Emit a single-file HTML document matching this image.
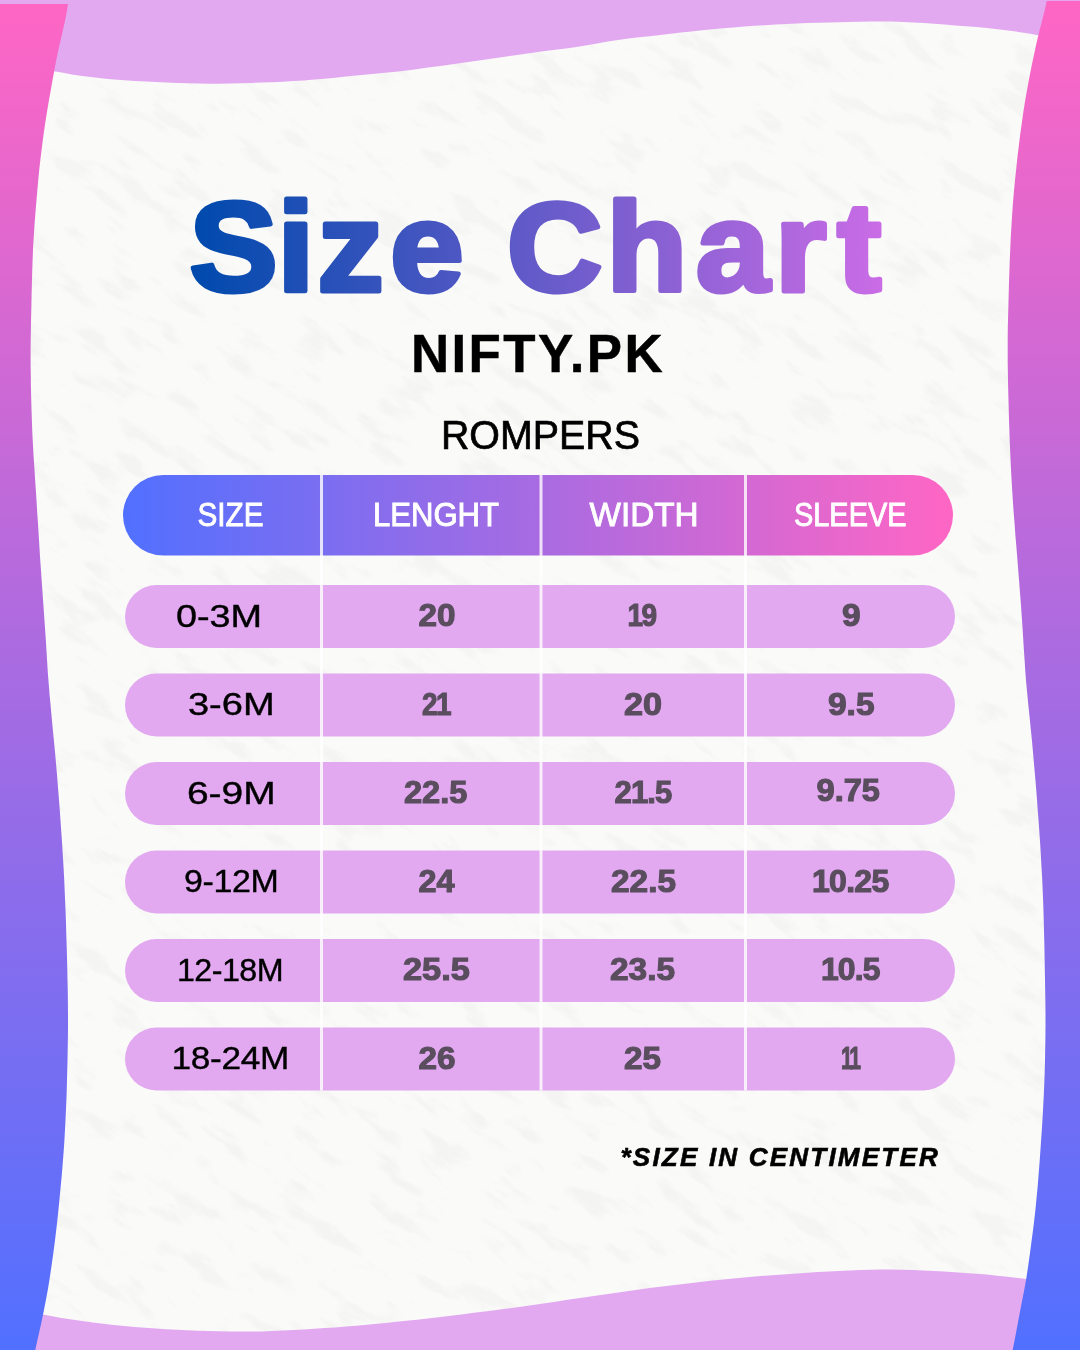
<!DOCTYPE html>
<html lang="en"><head><meta charset="utf-8"><title>Size Chart - NIFTY.PK Rompers</title>
<style>
html,body{margin:0;padding:0;background:#E2A9F1;}
body{width:1080px;height:1350px;overflow:hidden;}
svg{display:block;}
text{font-family:"Liberation Sans",Arial,sans-serif;}
</style></head><body>
<svg width="1080" height="1350" viewBox="0 0 1080 1350">
<defs>
<linearGradient id="gv" x1="0" y1="0" x2="0" y2="1350" gradientUnits="userSpaceOnUse"><stop offset="0" stop-color="#FF66C4"/><stop offset="1" stop-color="#5170FF"/></linearGradient>
<linearGradient id="gh" x1="123" y1="0" x2="953" y2="0" gradientUnits="userSpaceOnUse"><stop offset="0" stop-color="#5170FF"/><stop offset="1" stop-color="#FF66C4"/></linearGradient>
<linearGradient id="gt" x1="187.0" y1="0" x2="845.3" y2="0" gradientUnits="userSpaceOnUse"><stop offset="0" stop-color="#004AAD"/><stop offset="1" stop-color="#CB6CE6"/></linearGradient>
<filter id="paper" x="0" y="0" width="100%" height="100%" color-interpolation-filters="sRGB"><feTurbulence type="fractalNoise" baseFrequency="0.02 0.06" numOctaves="4" seed="3" result="n"/><feColorMatrix in="n" type="matrix" values="0 0 0 0 0.5  0 0 0 0 0.5  0 0 0 0 0.5  5 0 0 0 -2.7"/></filter>
<clipPath id="pc"><polygon points="20.0,64.5 30.3,66.7 40.7,68.7 51.1,70.8 61.5,72.6 71.9,74.4 82.3,76.0 92.8,77.3 103.3,78.5 113.8,79.5 124.4,80.3 134.9,81.0 145.5,81.6 156.0,82.1 166.6,82.5 177.1,82.9 187.7,83.2 198.3,83.5 208.8,83.8 219.4,83.8 230.0,83.6 240.5,83.3 251.1,82.9 261.6,82.6 272.2,82.2 282.8,81.7 293.3,81.1 303.9,80.4 314.4,79.6 324.9,78.7 335.4,77.7 345.9,76.6 356.5,75.6 367.0,74.6 377.5,73.6 388.0,72.6 398.5,71.4 409.0,70.2 419.5,68.8 429.9,67.3 440.4,65.9 450.9,64.4 461.3,62.9 471.8,61.5 482.3,60.0 492.7,58.5 503.2,57.0 513.6,55.5 524.1,54.0 534.6,52.5 545.0,51.1 555.5,49.8 566.0,48.5 576.5,47.0 586.9,45.3 597.3,43.4 607.7,41.6 618.1,40.0 628.6,38.6 639.1,37.3 649.6,36.2 660.1,35.0 670.6,33.8 681.1,32.6 691.6,31.4 702.1,30.3 712.6,29.2 723.1,28.3 733.7,27.4 744.2,26.6 754.7,25.8 765.3,25.2 775.8,24.6 786.4,24.0 796.9,23.5 807.5,23.1 818.1,22.7 828.6,22.4 839.2,22.2 849.7,22.0 860.3,21.7 870.9,21.6 881.4,21.5 892.0,21.6 902.6,21.9 913.1,22.4 923.7,23.0 934.2,23.7 944.7,24.5 955.3,25.4 965.8,26.2 976.4,27.1 986.9,28.1 997.4,29.2 1007.9,30.5 1018.3,31.9 1028.8,33.6 1039.2,35.4 1049.6,37.2 1060.0,39.0 1060.0,1284.0 1049.6,1282.2 1039.1,1280.6 1028.7,1279.2 1018.2,1277.9 1007.7,1276.7 997.2,1275.7 986.7,1274.6 976.1,1273.7 965.6,1272.9 955.1,1272.2 944.5,1271.5 934.0,1271.0 923.4,1270.5 912.9,1270.1 902.3,1269.8 891.7,1269.5 881.2,1269.5 870.6,1269.7 860.1,1270.0 849.5,1270.4 839.0,1270.9 828.4,1271.5 817.9,1272.1 807.3,1272.8 796.8,1273.5 786.2,1274.2 775.7,1274.9 765.2,1275.7 754.6,1276.6 744.1,1277.5 733.6,1278.5 723.1,1279.5 712.6,1280.6 702.1,1281.8 691.6,1282.9 681.1,1284.2 670.6,1285.4 660.1,1286.7 649.6,1288.0 639.2,1289.4 628.7,1290.9 618.2,1292.4 607.8,1293.9 597.3,1295.4 586.9,1296.9 576.4,1298.5 566.0,1300.1 555.5,1301.7 545.1,1303.2 534.6,1304.8 524.2,1306.2 513.7,1307.7 503.2,1309.0 492.8,1310.4 482.3,1311.7 471.8,1313.1 461.3,1314.4 450.9,1315.7 440.4,1317.0 429.9,1318.2 419.4,1319.4 408.9,1320.5 398.4,1321.6 387.9,1322.7 377.3,1323.8 366.8,1324.7 356.3,1325.7 345.8,1326.5 335.2,1327.4 324.7,1328.1 314.2,1328.8 303.6,1329.4 293.1,1330.0 282.5,1330.6 272.0,1331.1 261.4,1331.5 250.9,1331.6 240.3,1331.6 229.7,1331.5 219.2,1331.3 208.6,1331.1 198.0,1330.7 187.5,1330.3 176.9,1329.8 166.4,1329.3 155.9,1328.6 145.3,1327.8 134.8,1326.9 124.3,1326.0 113.8,1324.9 103.3,1323.7 92.8,1322.5 82.3,1321.1 71.8,1319.5 61.4,1317.9 51.0,1316.0 40.6,1314.0 30.3,1311.9 20.0,1309.5"/></clipPath>
</defs>
<rect width="1080" height="1350" fill="#E2A9F1"/>
<polygon points="20.0,64.5 30.3,66.7 40.7,68.7 51.1,70.8 61.5,72.6 71.9,74.4 82.3,76.0 92.8,77.3 103.3,78.5 113.8,79.5 124.4,80.3 134.9,81.0 145.5,81.6 156.0,82.1 166.6,82.5 177.1,82.9 187.7,83.2 198.3,83.5 208.8,83.8 219.4,83.8 230.0,83.6 240.5,83.3 251.1,82.9 261.6,82.6 272.2,82.2 282.8,81.7 293.3,81.1 303.9,80.4 314.4,79.6 324.9,78.7 335.4,77.7 345.9,76.6 356.5,75.6 367.0,74.6 377.5,73.6 388.0,72.6 398.5,71.4 409.0,70.2 419.5,68.8 429.9,67.3 440.4,65.9 450.9,64.4 461.3,62.9 471.8,61.5 482.3,60.0 492.7,58.5 503.2,57.0 513.6,55.5 524.1,54.0 534.6,52.5 545.0,51.1 555.5,49.8 566.0,48.5 576.5,47.0 586.9,45.3 597.3,43.4 607.7,41.6 618.1,40.0 628.6,38.6 639.1,37.3 649.6,36.2 660.1,35.0 670.6,33.8 681.1,32.6 691.6,31.4 702.1,30.3 712.6,29.2 723.1,28.3 733.7,27.4 744.2,26.6 754.7,25.8 765.3,25.2 775.8,24.6 786.4,24.0 796.9,23.5 807.5,23.1 818.1,22.7 828.6,22.4 839.2,22.2 849.7,22.0 860.3,21.7 870.9,21.6 881.4,21.5 892.0,21.6 902.6,21.9 913.1,22.4 923.7,23.0 934.2,23.7 944.7,24.5 955.3,25.4 965.8,26.2 976.4,27.1 986.9,28.1 997.4,29.2 1007.9,30.5 1018.3,31.9 1028.8,33.6 1039.2,35.4 1049.6,37.2 1060.0,39.0 1060.0,1284.0 1049.6,1282.2 1039.1,1280.6 1028.7,1279.2 1018.2,1277.9 1007.7,1276.7 997.2,1275.7 986.7,1274.6 976.1,1273.7 965.6,1272.9 955.1,1272.2 944.5,1271.5 934.0,1271.0 923.4,1270.5 912.9,1270.1 902.3,1269.8 891.7,1269.5 881.2,1269.5 870.6,1269.7 860.1,1270.0 849.5,1270.4 839.0,1270.9 828.4,1271.5 817.9,1272.1 807.3,1272.8 796.8,1273.5 786.2,1274.2 775.7,1274.9 765.2,1275.7 754.6,1276.6 744.1,1277.5 733.6,1278.5 723.1,1279.5 712.6,1280.6 702.1,1281.8 691.6,1282.9 681.1,1284.2 670.6,1285.4 660.1,1286.7 649.6,1288.0 639.2,1289.4 628.7,1290.9 618.2,1292.4 607.8,1293.9 597.3,1295.4 586.9,1296.9 576.4,1298.5 566.0,1300.1 555.5,1301.7 545.1,1303.2 534.6,1304.8 524.2,1306.2 513.7,1307.7 503.2,1309.0 492.8,1310.4 482.3,1311.7 471.8,1313.1 461.3,1314.4 450.9,1315.7 440.4,1317.0 429.9,1318.2 419.4,1319.4 408.9,1320.5 398.4,1321.6 387.9,1322.7 377.3,1323.8 366.8,1324.7 356.3,1325.7 345.8,1326.5 335.2,1327.4 324.7,1328.1 314.2,1328.8 303.6,1329.4 293.1,1330.0 282.5,1330.6 272.0,1331.1 261.4,1331.5 250.9,1331.6 240.3,1331.6 229.7,1331.5 219.2,1331.3 208.6,1331.1 198.0,1330.7 187.5,1330.3 176.9,1329.8 166.4,1329.3 155.9,1328.6 145.3,1327.8 134.8,1326.9 124.3,1326.0 113.8,1324.9 103.3,1323.7 92.8,1322.5 82.3,1321.1 71.8,1319.5 61.4,1317.9 51.0,1316.0 40.6,1314.0 30.3,1311.9 20.0,1309.5" fill="#FAFAF8"/>
<g clip-path="url(#pc)" opacity="0.042"><g transform="rotate(33 540 675)"><rect x="-260" y="-160" width="1600" height="1680" fill="#000" filter="url(#paper)"/></g></g>
<polygon points="-2.0,4.0 68.0,4.0 66.9,11.3 64.7,22.6 62.1,33.7 59.5,44.9 57.1,56.1 54.9,67.3 52.8,78.6 50.8,89.9 48.8,101.1 46.9,112.4 45.1,123.7 43.5,135.1 42.0,146.4 40.6,157.8 39.3,169.2 38.2,180.6 37.2,192.0 36.2,203.4 35.3,214.8 34.4,226.2 33.7,237.6 33.0,249.1 32.6,260.5 32.2,272.0 31.9,283.4 31.6,294.8 31.4,306.3 31.1,317.7 30.9,329.2 30.7,340.6 30.6,352.1 30.6,363.5 30.8,375.0 30.9,386.4 31.2,397.9 31.5,409.3 31.9,420.8 32.3,432.2 32.9,443.7 33.5,455.1 34.3,466.5 35.0,477.9 35.8,489.4 36.5,500.8 37.2,512.2 38.0,523.6 38.7,535.1 39.4,546.5 40.1,557.9 40.9,569.4 41.7,580.8 42.5,592.2 43.3,603.6 44.1,615.0 44.9,626.5 45.7,637.9 46.4,649.3 47.1,660.7 47.8,672.2 48.7,683.6 49.6,695.0 50.7,706.4 51.7,717.8 52.8,729.2 53.9,740.6 55.0,752.0 56.0,763.4 57.0,774.8 57.9,786.2 58.8,797.6 59.7,809.1 60.5,820.5 61.3,831.9 62.1,843.3 62.8,854.8 63.5,866.2 64.1,877.6 64.6,889.1 65.1,900.5 65.6,911.9 66.0,923.4 66.3,934.8 66.7,946.3 67.0,957.7 67.3,969.2 67.5,980.6 67.8,992.1 67.9,1003.5 68.0,1015.0 68.0,1026.4 67.9,1037.9 67.7,1049.3 67.5,1060.8 67.2,1072.2 66.9,1083.6 66.6,1095.1 66.1,1106.5 65.6,1118.0 65.0,1129.4 64.4,1140.8 63.6,1152.3 62.7,1163.7 61.8,1175.1 60.7,1186.5 59.6,1197.9 58.5,1209.3 57.3,1220.7 56.0,1232.0 54.6,1243.4 53.1,1254.8 51.5,1266.1 49.8,1277.4 48.0,1288.7 45.9,1300.0 43.7,1311.2 41.4,1322.5 38.9,1333.6 36.4,1344.8 34.0,1356.0 -2.0,1356.0" fill="url(#gv)"/>
<polygon points="1082.0,1.0 1046.8,1.0 1044.7,10.2 1041.9,21.3 1039.0,32.4 1036.4,43.6 1034.0,54.8 1031.6,66.0 1029.4,77.2 1027.3,88.5 1025.3,99.8 1023.5,111.1 1021.9,122.4 1020.3,133.8 1018.9,145.2 1017.5,156.6 1016.3,167.9 1015.1,179.3 1014.0,190.8 1013.0,202.2 1012.2,213.6 1011.5,225.0 1010.8,236.5 1010.3,247.9 1009.8,259.4 1009.4,270.8 1009.0,282.3 1008.7,293.8 1008.4,305.2 1008.1,316.7 1007.8,328.1 1007.7,339.6 1007.7,351.1 1007.7,362.5 1007.9,374.0 1008.1,385.4 1008.4,396.9 1008.7,408.4 1009.0,419.8 1009.4,431.3 1009.8,442.7 1010.3,454.2 1010.8,465.6 1011.4,477.1 1012.1,488.5 1012.8,499.9 1013.6,511.4 1014.5,522.8 1015.3,534.2 1016.3,545.7 1017.2,557.1 1018.1,568.5 1019.0,579.9 1019.9,591.4 1020.8,602.8 1021.6,614.2 1022.4,625.7 1023.1,637.1 1023.8,648.5 1024.6,660.0 1025.3,671.4 1026.2,682.8 1027.3,694.2 1028.4,705.7 1029.6,717.1 1030.7,728.5 1031.9,739.9 1032.9,751.3 1033.9,762.7 1034.9,774.1 1035.9,785.5 1036.8,797.0 1037.6,808.4 1038.5,819.8 1039.3,831.3 1040.1,842.7 1040.8,854.1 1041.4,865.6 1042.1,877.0 1042.6,888.5 1043.1,899.9 1043.5,911.4 1043.8,922.8 1044.1,934.3 1044.4,945.7 1044.6,957.2 1044.8,968.7 1045.0,980.1 1045.2,991.6 1045.4,1003.0 1045.5,1014.5 1045.5,1026.0 1045.4,1037.4 1045.2,1048.9 1045.0,1060.3 1044.7,1071.8 1044.3,1083.3 1043.8,1094.7 1043.2,1106.2 1042.6,1117.6 1041.9,1129.0 1041.1,1140.5 1040.3,1151.9 1039.5,1163.3 1038.6,1174.8 1037.7,1186.2 1036.6,1197.6 1035.5,1209.0 1034.2,1220.4 1032.8,1231.8 1031.3,1243.1 1029.8,1254.5 1028.2,1265.8 1026.5,1277.2 1024.5,1288.5 1022.3,1299.7 1020.1,1311.0 1018.0,1322.2 1015.9,1333.5 1013.7,1344.8 1011.5,1356.0 1082.0,1356.0" fill="url(#gv)"/>
<rect x="123" y="475" width="830" height="80.60000000000002" rx="40.30000000000001" fill="url(#gh)"/>
<rect x="125" y="585.0" width="830" height="63" rx="31.5" fill="#E2A9F1"/>
<rect x="125" y="673.5" width="830" height="63" rx="31.5" fill="#E2A9F1"/>
<rect x="125" y="762.0" width="830" height="63" rx="31.5" fill="#E2A9F1"/>
<rect x="125" y="850.5" width="830" height="63" rx="31.5" fill="#E2A9F1"/>
<rect x="125" y="939.0" width="830" height="63" rx="31.5" fill="#E2A9F1"/>
<rect x="125" y="1027.5" width="830" height="63" rx="31.5" fill="#E2A9F1"/>
<rect x="320.0" y="475" width="3" height="615.5" fill="#fff" fill-opacity="0.8"/>
<rect x="539.5" y="475" width="3" height="615.5" fill="#fff" fill-opacity="0.8"/>
<rect x="744.0" y="475" width="3" height="615.5" fill="#fff" fill-opacity="0.8"/>
<text id="title" transform="scale(1.0482,1)" x="180.79 264.66 303.01 372.27 432.27 483.80 578.64 664.03 739.30 798.74" y="290.8" font-size="126" font-weight="700" fill="url(#gt)" stroke="url(#gt)" stroke-width="5" stroke-linejoin="round">Size Chart</text>
<text id="brand" x="410.90" y="371.75" font-size="54.51" font-weight="700" fill="#000" stroke="#000" stroke-width="0.5" letter-spacing="2.5" textLength="254.18" lengthAdjust="spacingAndGlyphs">NIFTY.PK</text>
<text id="cat" x="440.95" y="449.35" font-size="40.12" fill="#000" stroke="#000" stroke-width="0.7" textLength="199.07" lengthAdjust="spacingAndGlyphs">ROMPERS</text>
<text id="foot" x="620.49" y="1166.40" font-size="26.31" font-weight="700" font-style="italic" fill="#000" stroke="#000" stroke-width="0.6" letter-spacing="2.2" textLength="319.53" lengthAdjust="spacingAndGlyphs">*SIZE IN CENTIMETER</text>
<text id="h1" x="197.48" y="526.35" font-size="33.28" fill="#fff" stroke="#fff" stroke-width="0.9" textLength="66.04" lengthAdjust="spacingAndGlyphs">SIZE</text>
<text id="h2" x="372.95" y="526.35" font-size="33.28" fill="#fff" stroke="#fff" stroke-width="0.9" textLength="126.06" lengthAdjust="spacingAndGlyphs">LENGHT</text>
<text id="h3" x="589.49" y="526.35" font-size="33.28" fill="#fff" stroke="#fff" stroke-width="0.9" textLength="109.05" lengthAdjust="spacingAndGlyphs">WIDTH</text>
<text id="h4" x="793.99" y="526.35" font-size="33.28" fill="#fff" stroke="#fff" stroke-width="0.9" textLength="112.53" lengthAdjust="spacingAndGlyphs">SLEEVE</text>
<text id="r0c1" x="175.96" y="626.70" font-size="31.83" fill="#000" stroke="#000" stroke-width="0.4" textLength="86.16" lengthAdjust="spacingAndGlyphs">0-3M</text>
<text id="r0c2" x="418.49" y="626.35" font-size="30.81" font-weight="700" fill="#594d5e" stroke="#594d5e" stroke-width="1.1" textLength="37.04" lengthAdjust="spacingAndGlyphs">20</text>
<text id="r0c3" x="627.47" y="626.35" font-size="30.81" font-weight="700" fill="#594d5e" stroke="#594d5e" stroke-width="1.1" letter-spacing="-1.69" textLength="28.04" lengthAdjust="spacingAndGlyphs">19</text>
<text id="r0c4" x="841.96" y="626.35" font-size="30.81" font-weight="700" fill="#594d5e" stroke="#594d5e" stroke-width="1.1" textLength="18.60" lengthAdjust="spacingAndGlyphs">9</text>
<text id="r1c1" x="187.94" y="715.20" font-size="31.83" fill="#000" stroke="#000" stroke-width="0.4" textLength="86.69" lengthAdjust="spacingAndGlyphs">3-6M</text>
<text id="r1c2" x="422.00" y="714.85" font-size="30.81" font-weight="700" fill="#594d5e" stroke="#594d5e" stroke-width="1.1" letter-spacing="-1.69" textLength="28.05" lengthAdjust="spacingAndGlyphs">21</text>
<text id="r1c3" x="623.99" y="714.85" font-size="30.81" font-weight="700" fill="#594d5e" stroke="#594d5e" stroke-width="1.1" textLength="38.07" lengthAdjust="spacingAndGlyphs">20</text>
<text id="r1c4" x="827.98" y="714.85" font-size="30.81" font-weight="700" fill="#594d5e" stroke="#594d5e" stroke-width="1.1" textLength="46.56" lengthAdjust="spacingAndGlyphs">9.5</text>
<text id="r2c1" x="186.92" y="803.70" font-size="31.83" fill="#000" stroke="#000" stroke-width="0.4" textLength="88.74" lengthAdjust="spacingAndGlyphs">6-9M</text>
<text id="r2c2" x="403.98" y="803.35" font-size="30.81" font-weight="700" fill="#594d5e" stroke="#594d5e" stroke-width="1.1" textLength="63.53" lengthAdjust="spacingAndGlyphs">22.5</text>
<text id="r2c3" x="614.49" y="803.35" font-size="30.81" font-weight="700" fill="#594d5e" stroke="#594d5e" stroke-width="1.1" letter-spacing="-0.85" textLength="57.01" lengthAdjust="spacingAndGlyphs">21.5</text>
<text id="r2c4" x="816.49" y="801.05" font-size="30.81" font-weight="700" fill="#594d5e" stroke="#594d5e" stroke-width="1.1" textLength="63.53" lengthAdjust="spacingAndGlyphs">9.75</text>
<text id="r3c1" x="183.97" y="892.20" font-size="31.83" fill="#000" stroke="#000" stroke-width="0.4" letter-spacing="-0.32" textLength="94.59" lengthAdjust="spacingAndGlyphs">9-12M</text>
<text id="r3c2" x="418.49" y="891.85" font-size="30.81" font-weight="700" fill="#594d5e" stroke="#594d5e" stroke-width="1.1" textLength="36.04" lengthAdjust="spacingAndGlyphs">24</text>
<text id="r3c3" x="610.99" y="891.85" font-size="30.81" font-weight="700" fill="#594d5e" stroke="#594d5e" stroke-width="1.1" textLength="65.02" lengthAdjust="spacingAndGlyphs">22.5</text>
<text id="r3c4" x="811.97" y="891.85" font-size="30.81" font-weight="700" fill="#594d5e" stroke="#594d5e" stroke-width="1.1" letter-spacing="-0.68" textLength="76.53" lengthAdjust="spacingAndGlyphs">10.25</text>
<text id="r4c1" x="176.93" y="980.70" font-size="31.83" fill="#000" stroke="#000" stroke-width="0.4" letter-spacing="-0.53" textLength="106.13" lengthAdjust="spacingAndGlyphs">12-18M</text>
<text id="r4c2" x="402.97" y="980.35" font-size="30.81" font-weight="700" fill="#594d5e" stroke="#594d5e" stroke-width="1.1" textLength="67.05" lengthAdjust="spacingAndGlyphs">25.5</text>
<text id="r4c3" x="610.00" y="980.35" font-size="30.81" font-weight="700" fill="#594d5e" stroke="#594d5e" stroke-width="1.1" textLength="65.02" lengthAdjust="spacingAndGlyphs">23.5</text>
<text id="r4c4" x="820.98" y="980.35" font-size="30.81" font-weight="700" fill="#594d5e" stroke="#594d5e" stroke-width="1.1" letter-spacing="-0.85" textLength="58.52" lengthAdjust="spacingAndGlyphs">10.5</text>
<text id="r5c1" x="171.41" y="1069.20" font-size="31.83" fill="#000" stroke="#000" stroke-width="0.4" letter-spacing="-0.27" textLength="117.67" lengthAdjust="spacingAndGlyphs">18-24M</text>
<text id="r5c2" x="418.49" y="1068.85" font-size="30.81" font-weight="700" fill="#594d5e" stroke="#594d5e" stroke-width="1.1" textLength="37.04" lengthAdjust="spacingAndGlyphs">26</text>
<text id="r5c3" x="623.99" y="1068.85" font-size="30.81" font-weight="700" fill="#594d5e" stroke="#594d5e" stroke-width="1.1" textLength="37.04" lengthAdjust="spacingAndGlyphs">25</text>
<text id="r5c4" x="841.03" y="1068.85" font-size="30.81" font-weight="700" fill="#594d5e" stroke="#594d5e" stroke-width="1.1" letter-spacing="-3.39" textLength="17.60" lengthAdjust="spacingAndGlyphs">11</text>
</svg>
</body></html>
